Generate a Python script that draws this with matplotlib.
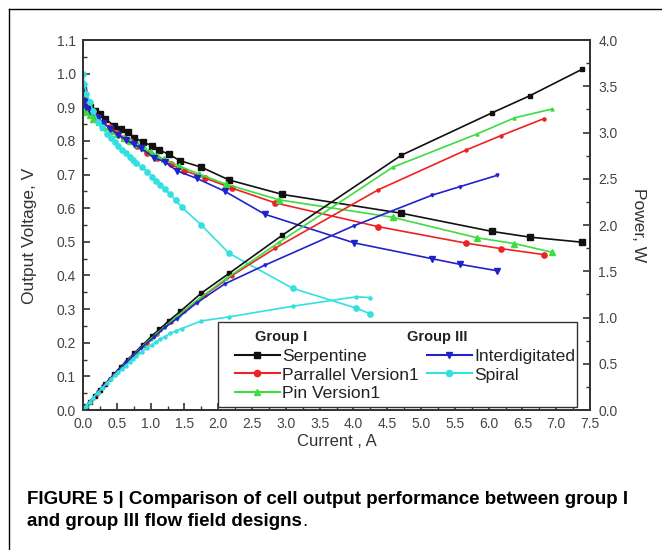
import matplotlib
matplotlib.use("Agg")
import matplotlib.pyplot as plt
from matplotlib.lines import Line2D
from matplotlib.patches import Rectangle
from matplotlib.ticker import MultipleLocator

# 전류 (A), 전압 (V), 출력 (W) — 그림에서 읽은 값
serp_i = [0, 0.02, 0.05, 0.1, 0.17, 0.25, 0.33, 0.46, 0.56, 0.66, 0.76, 0.89, 1.02,
          1.13, 1.27, 1.44, 1.75, 2.16, 2.95, 4.71, 6.05, 6.61, 7.38]
serp_v = [0.95, 0.93, 0.915, 0.90, 0.89, 0.879, 0.865, 0.845, 0.837, 0.826, 0.81, 0.796,
          0.786, 0.773, 0.76, 0.741, 0.722, 0.684, 0.641, 0.585, 0.531, 0.514, 0.499]
serp_p = [0, 0.019, 0.046, 0.09, 0.151, 0.22, 0.285, 0.389, 0.469, 0.545, 0.616, 0.708,
          0.802, 0.873, 0.965, 1.067, 1.264, 1.477, 1.891, 2.755, 3.213, 3.398, 3.683]

par_i = [0, 0.02, 0.05, 0.1, 0.2, 0.3, 0.4, 0.5, 0.6, 0.7, 0.8, 0.95, 1.1, 1.3, 1.5,
         1.8, 2.2, 2.84, 4.37, 5.67, 6.18, 6.82]
par_v = [0.95, 0.93, 0.91, 0.89, 0.87, 0.853, 0.84, 0.825, 0.81, 0.80, 0.785, 0.763,
         0.748, 0.73, 0.712, 0.69, 0.66, 0.616, 0.545, 0.496, 0.480, 0.462]
par_p = [0, 0.019, 0.046, 0.089, 0.174, 0.256, 0.336, 0.413, 0.486, 0.56, 0.628, 0.725,
         0.823, 0.949, 1.068, 1.242, 1.452, 1.749, 2.382, 2.812, 2.966, 3.151]

pin_i = [0, 0.02, 0.05, 0.1, 0.15, 0.23, 0.3, 0.4, 0.5, 0.6, 0.7, 0.8, 0.9, 1.0, 1.1,
         1.2, 1.42, 1.71, 2.12, 2.9, 4.58, 5.83, 6.38, 6.94]
pin_v = [0.92, 0.89, 0.885, 0.877, 0.865, 0.855, 0.84, 0.83, 0.82, 0.81, 0.80, 0.79,
         0.778, 0.768, 0.756, 0.745, 0.726, 0.702, 0.671, 0.625, 0.573, 0.512, 0.495, 0.469]
pin_p = [0, 0.018, 0.044, 0.088, 0.13, 0.197, 0.252, 0.332, 0.41, 0.486, 0.56, 0.632,
         0.70, 0.768, 0.832, 0.894, 1.031, 1.20, 1.423, 1.813, 2.624, 2.985, 3.158, 3.255]

inter_i = [0, 0.02, 0.05, 0.1, 0.22, 0.3, 0.4, 0.52, 0.64, 0.75, 0.86, 1.05, 1.21, 1.39,
           1.68, 2.1, 2.69, 4.01, 5.16, 5.58, 6.13]
inter_v = [0.95, 0.92, 0.90, 0.89, 0.867, 0.853, 0.837, 0.818, 0.803, 0.79, 0.778, 0.75,
           0.738, 0.711, 0.689, 0.65, 0.582, 0.497, 0.45, 0.433, 0.414]
inter_p = [0, 0.018, 0.045, 0.089, 0.191, 0.256, 0.335, 0.425, 0.514, 0.593, 0.669, 0.788,
           0.893, 0.988, 1.158, 1.365, 1.566, 1.993, 2.322, 2.416, 2.538]

spiral_i = [0, 0.02, 0.05, 0.1, 0.15, 0.22, 0.28, 0.35, 0.41, 0.47, 0.52, 0.57, 0.63,
            0.69, 0.74, 0.79, 0.87, 0.95, 1.02, 1.08, 1.14, 1.21, 1.29, 1.37, 1.46,
            1.75, 2.16, 3.1, 4.04, 4.25]
spiral_v = [1.0, 0.97, 0.94, 0.917, 0.89, 0.857, 0.84, 0.822, 0.808, 0.796, 0.785, 0.773,
            0.763, 0.753, 0.743, 0.733, 0.723, 0.708, 0.694, 0.681, 0.669, 0.656, 0.642,
            0.624, 0.603, 0.55, 0.466, 0.362, 0.303, 0.286]
spiral_p = [0, 0.019, 0.047, 0.092, 0.134, 0.189, 0.235, 0.288, 0.331, 0.374, 0.408, 0.441,
            0.481, 0.52, 0.55, 0.579, 0.629, 0.673, 0.708, 0.735, 0.763, 0.794, 0.828,
            0.855, 0.88, 0.963, 1.007, 1.122, 1.224, 1.216]

SERIES = [
    ("Serpentine", serp_i, serp_v, serp_p, "#111111", "s"),
    ("Parrallel Version1", par_i, par_v, par_p, "#ee2222", "o"),
    ("Pin Version1", pin_i, pin_v, pin_p, "#3ddd3d", "^"),
    ("Interdigitated", inter_i, inter_v, inter_p, "#2222cc", "v"),
    ("Spiral", spiral_i, spiral_v, spiral_p, "#33e0e0", "o"),
]

plt.rcParams["font.family"] = ["Liberation Sans", "DejaVu Sans"]
fig = plt.figure(figsize=(6.62, 5.5), dpi=100)
ax = fig.add_axes([0.1254, 0.2545, 0.7659, 0.6727])
ax2 = ax.twinx()

handles = {}
for name, ii, vv, pp, col, mk in SERIES:
    ax.plot(ii, vv, color=col, marker=mk, ms=3.8, lw=1.2)
    ax2.plot(ii, pp, color=col, marker=mk, ms=2.2, lw=1.2)
    handles[name] = Line2D([], [], color=col, marker=mk, ms=4.5, lw=1.5)

ax.set_xlim(0, 7.5)
ax.set_ylim(0, 1.1)
ax2.set_ylim(0, 4.0)
ax.xaxis.set_major_locator(MultipleLocator(0.5))
ax.xaxis.set_minor_locator(MultipleLocator(0.25))
ax.yaxis.set_major_locator(MultipleLocator(0.1))
ax.yaxis.set_minor_locator(MultipleLocator(0.05))
ax2.yaxis.set_major_locator(MultipleLocator(0.5))
ax2.yaxis.set_minor_locator(MultipleLocator(0.25))
ax.xaxis.set_major_formatter(lambda v, p: f"{v:.1f}")
ax.yaxis.set_major_formatter(lambda v, p: f"{v:.1f}")
ax2.yaxis.set_major_formatter(lambda v, p: f"{v:.1f}")

for a in (ax, ax2):
    a.tick_params(which="both", direction="in", colors="#333333", labelsize=10,
                  labelcolor="#444444")
    a.tick_params(which="major", length=5, width=1.2)
    a.tick_params(which="minor", length=3, width=1.0)
    for s in a.spines.values():
        s.set_color("#333333")
        s.set_linewidth(1.3)
ax.tick_params(axis="x", pad=5)
ax.tick_params(axis="y", pad=5)
ax2.tick_params(axis="y", pad=6)

ax.set_xlabel("Current , A", fontsize=12, color="#333333", labelpad=2)
ax.set_ylabel("Output Voltage, V", fontsize=12.5, color="#333333")
ax.yaxis.set_label_coords(-0.091, 0.47)
ax2.set_ylabel("Power, W", fontsize=12.5, color="#333333", rotation=270, labelpad=20)

# 범례 — 흰 박스 + 그룹 제목 + 두 개의 범례
def fx(px):
    return (px - 83) / 507.0


def fy(py):
    return (410 - py) / 370.0


ax2.add_patch(Rectangle((fx(218), fy(407)), fx(577) - fx(218), fy(322) - fy(407),
                        transform=ax2.transAxes, facecolor="white",
                        edgecolor="#333333", lw=1.0, zorder=10))
ax2.text(fx(255), fy(337), "Group I", transform=ax2.transAxes, fontsize=10.5,
         fontweight="bold", va="center", ha="left", color="#222222", zorder=11)
ax2.text(fx(407), fy(337), "Group III", transform=ax2.transAxes, fontsize=10.5,
         fontweight="bold", va="center", ha="left", color="#222222", zorder=11)

leg_kw = dict(frameon=False, fontsize=12.6, handlelength=2.55, handletextpad=0.15,
              labelspacing=0.17, borderpad=0, borderaxespad=0, loc="upper left")
names1 = ["Serpentine", "Parrallel Version1", "Pin Version1"]
names2 = ["Interdigitated", "Spiral"]
leg1 = ax2.legend([handles[n] for n in names1], names1,
                  bbox_to_anchor=(fx(235), fy(349)), **leg_kw)
leg1.set_zorder(12)
ax2.add_artist(leg1)
leg2 = ax2.legend([handles[n] for n in names2], names2,
                  bbox_to_anchor=(fx(427), fy(349)), **leg_kw)
leg2.set_zorder(12)
for lg in (leg1, leg2):
    for t in lg.get_texts():
        t.set_color("#222222")

# 테두리
fig.add_artist(Line2D([9 / 662, 9 / 662], [0, 1 - 9 / 550], color="black", lw=1.0))
fig.add_artist(Line2D([9 / 662, 1], [1 - 9 / 550, 1 - 9 / 550], color="black", lw=1.0))

cap_font = ["Liberation Sans Narrow", "Liberation Sans", "DejaVu Sans"]
fig.text(27 / 662, 1 - 500 / 550, "FIGURE 5 | Comparison of cell output performance between group I",
         family=cap_font, fontsize=13.5, fontweight="bold", va="center", ha="left")
t2 = fig.text(27 / 662, 1 - 521 / 550, "and group III flow field designs",
              family=cap_font, fontsize=13.5, fontweight="bold", va="center", ha="left")
fig.canvas.draw()
bb = t2.get_window_extent().transformed(fig.transFigure.inverted())
fig.text(bb.x1, 1 - 521 / 550, ".", family=cap_font, fontsize=13.5, va="center", ha="left")

fig.savefig("out.png", dpi=100)
